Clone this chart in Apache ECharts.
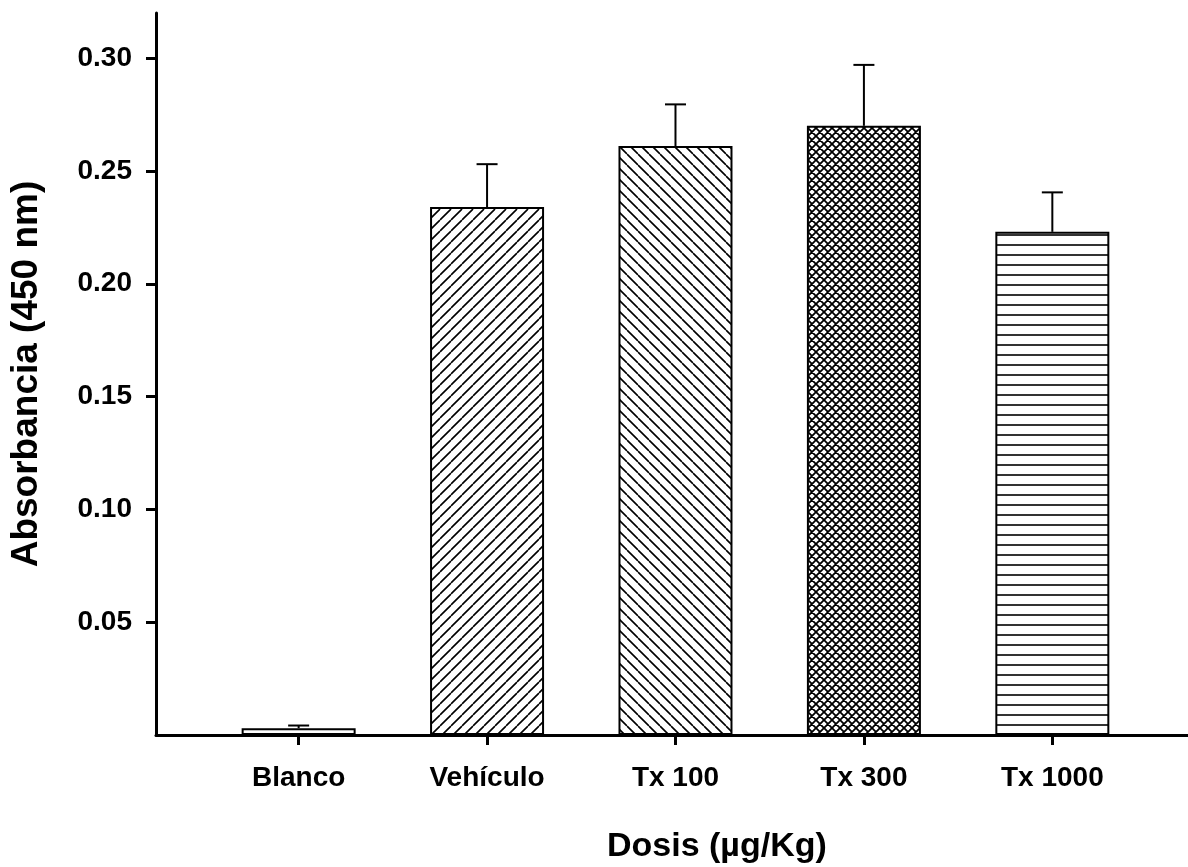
<!DOCTYPE html>
<html>
<head>
<meta charset="utf-8">
<script src="https://cdn.jsdelivr.net/npm/echarts@6/dist/echarts.min.js"></script>
<style>
  html, body { margin: 0; padding: 0; background: #fff; }
  #chart { width: 1188px; height: 867px; }
</style>
</head>
<body>
<div id="chart"></div>
<script>
// datos
const categories = ['Blanco', 'Vehículo', 'Tx 100', 'Tx 300', 'Tx 1000']
const means = [0.003, 0.234, 0.261, 0.270, 0.223]
const errors = [0.0012, 0.019, 0.0185, 0.027, 0.0175]
const patterns = ['none', 'slash', 'backslash', 'cross', 'horizontal']
const yTicks = [0.05, 0.10, 0.15, 0.20, 0.25, 0.30]

// crea un patron de rayas en un canvas pequeño
function makePattern(kind) {
  if (kind === 'none') return '#ffffff'
  let s = kind === 'cross' ? 8 : (kind === 'horizontal' ? 10 : 11)
  let c = document.createElement('canvas')
  c.width = s
  c.height = s
  let ctx = c.getContext('2d')
  ctx.fillStyle = '#fff'
  ctx.fillRect(0, 0, s, s)
  ctx.strokeStyle = '#000'
  ctx.lineWidth = kind === 'cross' ? 1.8 : 1.6
  ctx.beginPath()
  if (kind === 'slash' || kind === 'cross') {
    for (let k = -1; k <= 1; k++) {
      ctx.moveTo(k * s, s)
      ctx.lineTo(k * s + s, 0)
    }
  }
  if (kind === 'backslash' || kind === 'cross') {
    for (let k = -1; k <= 1; k++) {
      ctx.moveTo(k * s, 0)
      ctx.lineTo(k * s + s, s)
    }
  }
  if (kind === 'horizontal') {
    ctx.moveTo(0, s / 2)
    ctx.lineTo(s, s / 2)
  }
  ctx.stroke()
  return { image: c, repeat: 'repeat' }
}

const chart = echarts.init(document.getElementById('chart'))
const font = '"Liberation Sans", Arial, sans-serif'

const barData = means.map((v, i) => ({
  value: [i, v],
  itemStyle: { color: makePattern(patterns[i]) }
}))
const errData = means.map((v, i) => [i, v, errors[i]])

const option = {
  animation: false,
  backgroundColor: '#fff',
  grid: { left: 152, right: 0, top: 13, bottom: 132 },
  title: {
    text: 'Dosis (µg/Kg)',
    left: 602,
    top: 825,
    textStyle: { fontFamily: font, fontWeight: 'bold', fontSize: 34, color: '#000' }
  },
  xAxis: {
    type: 'value',
    min: -0.757,
    max: 4.72,
    splitLine: { show: false },
    axisLine: { show: true, onZero: false, lineStyle: { color: '#000', width: 3 } },
    axisTick: { show: true, customValues: [0, 1, 2, 3, 4], length: 10, lineStyle: { color: '#000', width: 3 } },
    axisLabel: {
      customValues: [0, 1, 2, 3, 4],
      formatter: v => categories[v],
      margin: 29,
      color: '#000',
      fontFamily: font,
      fontWeight: 'bold',
      fontSize: 28
    }
  },
  yAxis: {
    type: 'value',
    min: 0,
    max: 0.32,
    interval: 0.05,
    name: 'Absorbancia (450 nm)',
    nameLocation: 'middle',
    nameGap: 111,
    nameTextStyle: { fontFamily: font, fontWeight: 'bold', fontSize: 37, color: '#000' },
    splitLine: { show: false },
    axisLine: { show: true, onZero: false, lineStyle: { color: '#000', width: 3 } },
    axisTick: { show: true, customValues: yTicks, length: 10, lineStyle: { color: '#000', width: 3 } },
    axisLabel: {
      customValues: yTicks,
      formatter: v => v.toFixed(2),
      margin: 24,
      color: '#000',
      fontFamily: font,
      fontWeight: 'bold',
      fontSize: 28
    }
  },
  series: [
    {
      type: 'bar',
      data: barData,
      barWidth: 114,
      itemStyle: { borderColor: '#000', borderWidth: 2 }
    },
    {
      // barras de error (solo la parte superior)
      type: 'custom',
      data: errData,
      z: 1,
      renderItem: function (params, api) {
        let x = api.value(0)
        let top = api.coord([x, api.value(1)])
        let end = api.coord([x, api.value(1) + api.value(2)])
        let style = { stroke: '#000', lineWidth: 2 }
        return {
          type: 'group',
          children: [
            { type: 'line', shape: { x1: top[0], y1: top[1], x2: end[0], y2: end[1] }, style: style },
            { type: 'line', shape: { x1: end[0] - 10.5, y1: end[1], x2: end[0] + 10.5, y2: end[1] }, style: style }
          ]
        }
      }
    }
  ]
}

chart.setOption(option)
</script>
</body>
</html>
